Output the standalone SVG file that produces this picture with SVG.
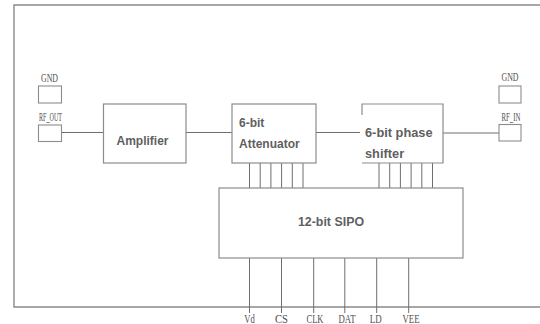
<svg xmlns="http://www.w3.org/2000/svg" width="540" height="324" viewBox="0 0 540 324">
<defs>
<style>
.frame{fill:none;stroke:#8a8a8a;stroke-width:1.4}
.box{fill:#fff;stroke:#8c8c8c;stroke-width:1.2}
.pad{fill:#fff;stroke:#8c8c8c;stroke-width:1.1}
.wire{fill:none;stroke:#6e6e6e;stroke-width:1}
.lbl{font-family:"Liberation Sans",Arial,sans-serif;font-weight:bold;font-size:12px;fill:#5f5f5f}
.pin{font-family:"Liberation Serif","Times New Roman",serif;font-size:11.5px;fill:#505050}
</style>
</defs>
<rect width="540" height="324" fill="#fff"/>
<path class="frame" d="M545,5 H14 V307 H545"/>
<g id="connectors">
<path class="wire" d="M61.5,132.5 H103.5"/>
<path class="wire" d="M186,132.5 H232"/>
<path class="wire" d="M316,132.5 H360"/>
<path class="wire" d="M443,133 H499"/>
<path class="wire" d="M249.5,163 V188 M260.2,163 V188 M270.9,163 V188 M281.6,163 V188 M292.3,163 V188 M303,163 V188"/>
<path class="wire" d="M379,163 V188 M389.7,163 V188 M400.4,163 V188 M411.1,163 V188 M421.8,163 V188 M432.5,163 V188"/>
<path class="wire" d="M249.5,258 V313 M281.5,258 V313 M313.7,258 V313 M344.8,258 V313 M376.7,258 V313 M408.7,258 V313"/>
</g>
<g id="gnd-left">
<text class="pin" x="49.5" y="82" text-anchor="middle" textLength="17" lengthAdjust="spacingAndGlyphs">GND</text>
<rect class="pad" x="38.5" y="86" width="23" height="17"/>
</g>
<g id="rf-out">
<text class="pin" x="50.5" y="120.5" text-anchor="middle" textLength="23" lengthAdjust="spacingAndGlyphs">RF_OUT</text>
<rect class="pad" x="38.5" y="125" width="23" height="16.5"/>
</g>
<g id="amplifier">
<rect class="box" x="103.5" y="104" width="82.5" height="59"/>
<text class="lbl" x="142.5" y="145" text-anchor="middle">Amplifier</text>
</g>
<g id="attenuator">
<rect class="box" x="232" y="104" width="84" height="59"/>
<text class="lbl" x="239" y="127">6-bit</text>
<text class="lbl" x="239" y="147.5">Attenuator</text>
</g>
<g id="phase-shifter">
<path class="box" d="M362,115 V104 H443 V163 H362" />
<text class="lbl" x="365" y="136.5" style="font-size:12.8px">6-bit phase</text>
<text class="lbl" x="365" y="157.5" style="font-size:12.8px">shifter</text>
</g>
<g id="gnd-right">
<text class="pin" x="510" y="81" text-anchor="middle" textLength="17" lengthAdjust="spacingAndGlyphs">GND</text>
<rect class="pad" x="499" y="86" width="22" height="17"/>
</g>
<g id="rf-in">
<text class="pin" x="511" y="120.5" text-anchor="middle" textLength="19" lengthAdjust="spacingAndGlyphs">RF_IN</text>
<rect class="pad" x="499" y="124.5" width="22" height="16.5"/>
</g>
<g id="sipo">
<rect class="box" x="219" y="188" width="244" height="70"/>
<text class="lbl" x="331" y="226" text-anchor="middle" style="font-size:12.4px">12-bit SIPO</text>
</g>
<g id="pins">
<text class="pin" x="249.5" y="322.5" text-anchor="middle" textLength="10.5" lengthAdjust="spacingAndGlyphs">Vd</text>
<text class="pin" x="281.5" y="322.5" text-anchor="middle" textLength="13" lengthAdjust="spacingAndGlyphs">CS</text>
<text class="pin" x="315" y="322.5" text-anchor="middle" textLength="17" lengthAdjust="spacingAndGlyphs">CLK</text>
<text class="pin" x="347" y="322.5" text-anchor="middle" textLength="17" lengthAdjust="spacingAndGlyphs">DAT</text>
<text class="pin" x="375.7" y="322.5" text-anchor="middle" textLength="12" lengthAdjust="spacingAndGlyphs">LD</text>
<text class="pin" x="411" y="322.5" text-anchor="middle" textLength="17" lengthAdjust="spacingAndGlyphs">VEE</text>
</g>
</svg>
